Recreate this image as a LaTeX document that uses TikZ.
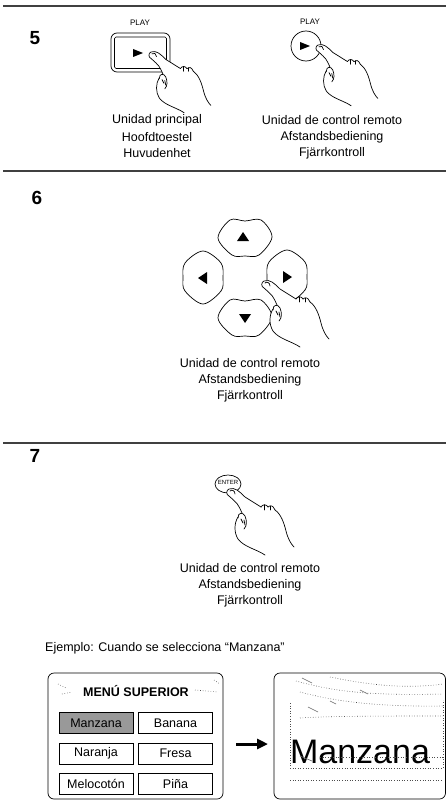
\documentclass[tikz,border=0pt]{standalone}
\usepackage{fontspec}
\setmainfont{Liberation Sans}
\usetikzlibrary{arrows.meta}

\tikzset{
  rule/.style={line width=1.3pt, black!75},
  stepnum/.style={font=\fontsize{19}{19}\selectfont\bfseries, inner sep=0pt},
  caption/.style={font=\fontsize{12.5}{14}\selectfont, inner sep=0pt},
  smalllabel/.style={font=\fontsize{8}{8}\selectfont, inner sep=0pt},
  outline/.style={line width=0.7pt, line join=round, line cap=round},
  menuitem/.style={draw, line width=0.7pt, minimum width=74pt, minimum height=21pt,
    inner sep=0pt, font=\fontsize{12.5}{13}\selectfont},
  texture/.style={line width=0.6pt, dotted, black!70},
  % pointing hand, fingertip at the origin
  hand/.pic={
    \fill[white] (0,0) .. controls (6,-2) and (10,2) .. (16,8) -- (32,18) -- (46,21)
      .. controls (52,25) and (55,34) .. (57,42) .. controls (59,50) and (62,55) .. (65,58)
      -- (36,66) .. controls (27,60) and (15,58) .. (9,50)
      .. controls (5,44) and (5,34) .. (9,28) -- (13,24)
      .. controls (9,15) .. (0,7) .. controls (-3,6) and (-3,1) .. (0,0) -- cycle;
    % finger
    \draw[outline] (13,24) .. controls (9,15) .. (0,7) .. controls (-3,6) and (-3,1) .. (0,0)
      .. controls (6,-2) and (10,2) .. (16,8) -- (32,18);
    \draw[outline] (1,2) .. controls (3,0) and (6,2) .. (6,5);
    % curled fingers
    \draw[outline] (32,18) .. controls (34,15) and (37,15) .. (39,18);
    \draw[outline] (39,18) .. controls (41,16) and (44,16) .. (46,21);
    \draw[outline] (35,16) -- (35,21);
    \draw[outline] (41,17) -- (41,21);
    % back of the hand
    \draw[outline] (46,21) .. controls (52,25) and (55,34) .. (57,42)
      .. controls (59,50) and (62,55) .. (65,58);
    % thumb
    \draw[outline] (9,29) .. controls (9,23) and (14,23) .. (16,27)
      .. controls (18,32) and (18,37) .. (15,40);
    \draw[outline] (12,30) -- (14,34) (15,31) -- (16,36);
    % wrist
    \draw[outline] (9,28) .. controls (5,34) and (5,44) .. (9,50)
      .. controls (15,58) and (27,60) .. (36,66);
  },
  hpad/.pic={
    \draw[outline, fill=white] plot[smooth cycle, tension=0.55] coordinates
      {(-15,-18) (0,-17) (16,-18) (27,-1) (14,17) (0,18) (-13,17) (-27,0)};
  },
  vpad/.pic={
    \draw[outline, fill=white] plot[smooth cycle, tension=0.55] coordinates
      {(0,-27) (18,-15) (20,0) (18,13) (0,26) (-18,13) (-20,0) (-18,-15)};
  },
}

\begin{document}
\begin{tikzpicture}[x=1pt, y=-1pt]
\useasboundingbox (0,0) rectangle (446,800);
\fill[white] (0,0) rectangle (446,800);

% section rules
\draw[rule] (3,6) -- (446,6);
\draw[rule] (3,171) -- (446,171);
\draw[rule] (3,443) -- (446,443);

% ---------- step 5 ----------
\node[stepnum] (n5) at (35,38) {5};

% PLAY key on the main unit
\node[smalllabel] (playA) at (140,23) {PLAY};
\draw[outline, rounded corners=6pt] (111,33) rectangle (170,72);
\draw[outline, rounded corners=1.5pt] (114.5,37) rectangle (166.5,68.5);
\fill (133,49) -- (143,53) -- (133,57) -- cycle;
\pic[scale=0.92] at (151,52) {hand};

% PLAY key on the remote
\node[smalllabel] (playB) at (310,22) {PLAY};
\draw[outline] (306,46) circle (15);
\fill (300,42) -- (310,46) -- (300,50) -- cycle;
\pic[scale=0.92] at (318,45) {hand};

\node[caption] (c5a1) at (157,120) {Unidad principal};
\node[caption] (c5a2) at (157,137) {Hoofdtoestel};
\node[caption] (c5a3) at (157,153) {Huvudenhet};
\node[caption] (c5b1) at (332,120) {Unidad de control remoto};
\node[caption] (c5b2) at (332,137) {Afstandsbediening};
\node[caption] (c5b3) at (332,153) {Fjärrkontroll};

% ---------- step 6 ----------
\node[stepnum] (n6) at (37,198) {6};

\pic at (245,238) {hpad};
\pic at (203,278) {vpad};
\pic at (287,277) {vpad};
\pic at (245,318) {hpad};
\fill (243,232) -- (249,241) -- (237,241) -- cycle;
\fill (198,278) -- (207,272) -- (207,284) -- cycle;
\fill (292,277) -- (283,271) -- (283,283) -- cycle;
\fill (245,323) -- (251,314) -- (239,314) -- cycle;
\pic at (264,281) {hand};

\node[caption] (c61) at (250,363) {Unidad de control remoto};
\node[caption] (c62) at (250,380) {Afstandsbediening};
\node[caption] (c63) at (250,396) {Fjärrkontroll};

% ---------- step 7 ----------
\node[stepnum] (n7) at (35,456) {7};
\draw[outline] (228,484) ellipse [x radius=13, y radius=9];
\node[font=\fontsize{6}{6}\selectfont, inner sep=0pt] (enter) at (228,482) {ENTER};
\pic at (229,489) {hand};

\node[caption] (c71) at (250,568) {Unidad de control remoto};
\node[caption] (c72) at (250,585) {Afstandsbediening};
\node[caption] (c73) at (250,601) {Fjärrkontroll};

\node[caption, anchor=west] (example) at (45,648) {Ejemplo: Cuando se selecciona “Manzana”};

% top menu screen
\draw[outline, rounded corners=6pt] (48,673) rectangle (223,799);
\node[font=\fontsize{12.5}{13}\selectfont\bfseries, inner sep=0pt] (menutitle) at (136,691) {MENÚ SUPERIOR};
\draw[texture] (58,684) -- (66,688) (62,694) -- (72,692) (195,690) -- (218,692) (214,680) -- (220,684);
\node[menuitem, fill=black!40] (m1) at (96,723) {Manzana};
\node[menuitem] (m2) at (175.5,723) {Banana};
\node[menuitem] (m3) at (96,753.5) {Naranja};
\node[menuitem] (m4) at (175.5,753.5) {Fresa};
\node[menuitem] (m5) at (96,784) {Melocotón};
\node[menuitem] (m6) at (175.5,784) {Piña};

% playback screen
\draw[outline, rounded corners=6pt] (274,673) rectangle (445.5,799);
\node[font=\fontsize{34}{34}\selectfont, inner sep=0pt] (big) at (360,752) {Manzana};
\draw[texture] (290,703) -- (290,768) -- (443,768) -- (443,700);
\draw[texture] (320,757) -- (443,757);
\draw[texture] (296,681) .. controls (330,690) and (360,696) .. (443,694);
\draw[texture] (300,692) .. controls (330,700) and (370,707) .. (443,706);
\draw[texture] (300,718) .. controls (330,716) and (380,716) .. (443,716);
\draw[texture] (330,677) .. controls (360,683) and (400,690) .. (443,684);
\draw[texture] (290,780) -- (443,780);
\draw[black!60, line width=0.6pt] (302,678) -- (312,683) (308,707) -- (318,712)
  (330,701) -- (336,704) (300,756) -- (312,761) (360,690) -- (368,694);

% arrow between the screens
\coordinate (arrS) at (236,744);
\coordinate (arrE) at (268,744);
\draw[line width=3pt, -{Triangle[length=11pt, width=10pt]}] (arrS) -- (arrE);
\end{tikzpicture}
\end{document}
